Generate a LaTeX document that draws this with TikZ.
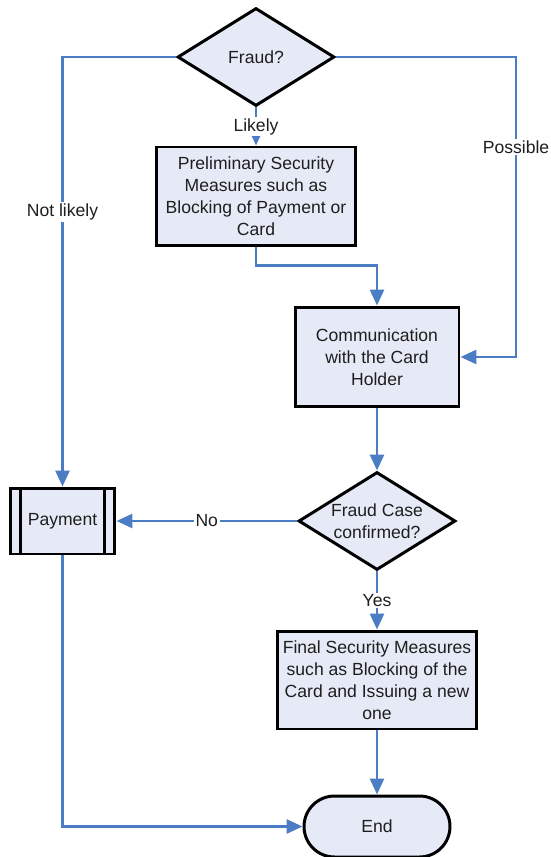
\documentclass[tikz,border=0pt]{standalone}
\usepackage{fontspec}
\setmainfont{Liberation Sans}
\usetikzlibrary{shapes.geometric}
\usetikzlibrary{shapes.misc}
\usetikzlibrary{arrows.meta}
\definecolor{boxfill}{RGB}{229,234,246}
\definecolor{flowblue}{RGB}{74,125,196}
\definecolor{inktext}{RGB}{30,30,30}
\tikzset{
	chartnode/.style = {
		align=center,
		inner sep=0pt,
		text centered,
		font=\fontsize{10}{12.5}\selectfont,
		text=inktext,
		draw=black,
		fill=boxfill,
		line width=1.7pt
	},
	node_step/.style = {
		chartnode,
		rectangle,
		minimum width=3.98cm,
		minimum height=1.98cm
	},
	node_ask/.style = {
		chartnode,
		diamond,
		minimum width=3.14cm,
		minimum height=1.96cm
	},
	node_sub/.style = {
		chartnode,
		rectangle,
		minimum width=2.1cm,
		minimum height=1.32cm
	},
	node_stop/.style = {
		chartnode,
		rounded rectangle,
		minimum width=2.92cm,
		minimum height=1.22cm
	},
	flow/.style = {
		draw=flowblue,
		line width=1.6pt,
		-{Triangle[length=0.32cm,width=0.28cm]}
	},
	flowlabel/.style = {
		fill=white,
		inner sep=1pt,
		text=inktext,
		font=\fontsize{10}{12}\selectfont
	},
}

\begin{document}
\begin{tikzpicture}[x=0.02cm,y=-0.02cm]
\useasboundingbox (0,0) rectangle (550,857);
% decisions
\node [node_ask, label={[text=inktext,font=\fontsize{10}{12}\selectfont]center:Fraud?}] (fraud) at (256,57) {};
\node [node_ask, label={[text=inktext,font=\fontsize{10}{12.5}\selectfont,align=center]center:Fraud Case\\confirmed?}] (confirm) at (377,521) {};
% steps
\node [node_step] (prelim) at (256,196.5) {Preliminary Security\\Measures such as\\Blocking of Payment or\\Card};
\node [node_step, minimum width=3.28cm, minimum height=2cm] (comm) at (377,357) {Communication\\with the Card\\Holder};
\node [node_step, minimum height=1.96cm] (final) at (377,680) {Final Security Measures\\such as Blocking of the\\Card and Issuing a new\\one};
\node [node_sub] (pay) at (62.5,521) {Payment};
\draw [line width=1.7pt] ([xshift=0.24cm]pay.north west) -- ([xshift=0.24cm]pay.south west);
\draw [line width=1.7pt] ([xshift=-0.24cm]pay.north east) -- ([xshift=-0.24cm]pay.south east);
\node [node_stop] (finish) at (377,826.5) {End};
\coordinate (possible) at (516,357);

% connectors
\draw [flow] (fraud.west) -| node [flowlabel, pos=0.68] {Not likely} (pay.north);
\draw [flow] (fraud.east) -| node [flowlabel, pos=0.65] {Possible} (possible) -- (comm.east);
\draw [flow] (fraud.south) -- node [flowlabel] {Likely} (prelim.north);
\draw [flow] (prelim.south) -- ++(0,18) -| (comm.north);
\draw [flow] (comm.south) -- (confirm.north);
\draw [flow] (confirm.west) -- node [flowlabel] {No} (pay.east);
\draw [flow] (confirm.south) -- node [flowlabel] {Yes} (final.north);
\draw [flow] (final.south) -- (finish.north);
\draw [flow] (pay.south) |- (finish.west);
\end{tikzpicture}
\end{document}
